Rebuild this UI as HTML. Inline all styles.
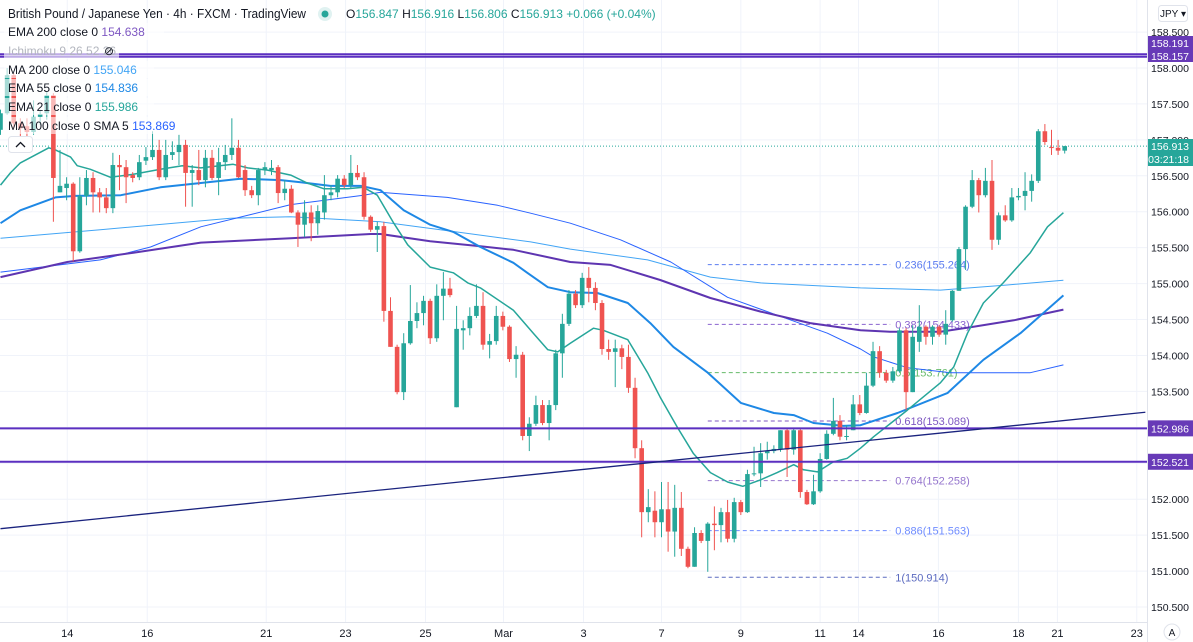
<!DOCTYPE html>
<html><head><meta charset="utf-8"><style>
html,body{margin:0;padding:0;background:#fff;}
svg{display:block;font-family:"Liberation Sans",sans-serif;}
</style></head><body>
<svg id="c" width="1193" height="642" viewBox="0 0 1193 642" xmlns="http://www.w3.org/2000/svg">
<g id="grid"></g>
<g id="plot" clip-path="url(#clipP)"></g>
<defs><clipPath id="clipP"><rect x="0" y="0" width="1147" height="622"/></clipPath></defs>
<g id="axis"></g>
<g id="legend"></g>
</svg>
<script>
const O=[157.14,157.37,157.90,157.23,157.19,157.11,157.32,157.37,157.62,156.27,156.33,156.39,155.45,156.22,156.47,156.27,156.20,156.05,156.65,156.62,156.51,156.48,156.71,156.76,156.86,156.48,156.79,156.83,156.93,156.54,156.58,156.44,156.75,156.47,156.69,156.79,156.89,156.58,156.30,156.23,156.58,156.58,156.62,156.26,156.32,155.99,155.82,155.99,155.84,155.99,156.23,156.27,156.46,156.37,156.54,156.48,155.93,155.75,155.80,154.62,154.12,153.49,154.17,154.48,154.59,154.76,154.24,154.83,154.93,153.28,154.35,154.38,154.55,154.69,154.15,154.20,154.55,154.40,153.95,154.01,152.88,153.05,153.31,153.06,153.31,154.03,154.44,154.86,154.70,155.08,154.94,154.73,154.09,154.05,154.10,153.98,153.55,152.71,151.82,151.84,151.68,151.86,151.55,151.88,151.31,151.06,151.53,151.42,151.66,151.64,151.82,151.45,151.96,151.82,152.35,152.36,152.64,152.67,152.70,152.96,152.69,152.96,152.10,151.93,152.11,152.56,152.91,153.09,152.87,152.96,153.32,153.20,153.58,154.06,153.76,153.65,153.78,154.35,153.49,154.19,154.40,154.26,154.40,154.29,154.49,154.90,155.48,156.07,156.44,156.23,156.43,155.61,155.95,155.88,156.20,156.22,156.29,156.43,157.12,156.90,156.89,156.85];
const H=[157.42,158.00,157.93,157.30,157.30,157.55,157.42,157.67,157.65,156.86,156.48,156.41,156.48,156.58,156.55,156.33,156.33,156.82,156.79,156.72,156.55,156.79,156.90,157.12,157.00,157.00,156.98,157.07,157.00,156.65,156.86,156.86,156.86,156.89,156.93,157.30,157.00,156.65,156.36,156.61,156.69,156.72,156.65,156.44,156.37,156.02,156.16,156.09,156.09,156.51,156.37,156.51,156.51,156.79,156.65,156.55,155.95,155.86,155.86,154.81,154.15,154.31,154.98,154.74,154.83,154.79,154.99,155.16,155.08,154.69,154.49,154.67,154.99,154.88,154.30,154.69,154.61,154.42,154.13,154.05,153.14,153.44,153.38,153.38,154.08,154.58,154.91,154.91,155.15,155.23,155.02,154.77,154.22,154.22,154.15,154.15,153.69,152.82,152.14,152.11,152.24,152.24,152.20,152.10,151.34,151.61,151.57,151.68,151.90,151.88,151.99,152.02,151.99,152.41,152.73,152.78,152.80,152.75,152.96,152.99,152.99,152.99,152.13,152.34,152.64,152.96,153.41,153.17,153.03,153.45,153.45,153.76,154.19,154.13,153.80,153.84,154.38,154.38,154.42,154.70,154.42,154.42,154.42,154.63,154.91,155.51,156.09,156.58,156.47,156.61,156.72,155.99,156.09,156.33,156.33,156.55,156.52,157.15,157.22,157.14,157.00,156.916];
const L=[157.07,157.35,157.16,157.00,157.00,157.07,157.21,157.28,155.86,156.27,156.16,155.31,155.43,156.09,155.99,155.99,155.98,155.98,156.30,156.12,156.41,156.44,156.65,156.72,156.44,156.44,156.72,156.65,156.07,156.07,156.37,156.34,156.44,156.23,156.58,156.72,156.47,156.22,156.19,156.09,156.51,156.51,156.12,156.16,155.98,155.51,155.65,155.59,155.68,155.89,156.16,156.20,156.33,156.33,156.44,155.89,155.72,155.44,154.47,154.12,153.46,153.38,154.15,154.38,154.42,154.16,154.19,154.49,154.81,153.28,154.08,154.28,154.52,154.08,153.96,154.15,154.35,153.91,153.69,152.82,152.67,153.02,153.03,152.82,153.24,153.69,154.41,154.66,154.66,154.74,154.63,154.01,153.94,153.56,153.81,153.48,152.57,151.47,151.68,151.47,151.47,151.27,151.20,151.21,151.04,151.06,151.39,150.99,151.29,151.40,151.40,151.40,151.78,151.81,152.32,152.17,152.55,152.64,152.66,152.31,152.62,152.02,151.92,151.92,152.09,152.55,152.89,152.82,152.82,152.96,153.17,153.19,153.56,153.69,153.62,153.62,153.76,153.24,153.49,154.05,154.15,154.15,154.26,154.15,154.47,154.90,155.19,156.05,155.99,156.20,155.47,155.54,155.86,155.86,156.16,156.02,156.14,156.40,156.93,156.79,156.79,156.81];
const C=[157.37,157.90,157.23,157.16,157.11,157.32,157.36,157.62,156.47,156.36,156.39,155.45,156.22,156.47,156.27,156.20,156.05,156.65,156.62,156.48,156.47,156.69,156.76,156.86,156.48,156.79,156.83,156.93,156.54,156.58,156.44,156.75,156.47,156.69,156.79,156.89,156.48,156.30,156.23,156.58,156.62,156.61,156.26,156.32,155.99,155.82,155.99,155.84,156.01,156.23,156.27,156.46,156.37,156.54,156.48,155.93,155.75,155.80,154.62,154.12,153.49,154.17,154.48,154.59,154.76,154.24,154.83,154.93,154.84,154.37,154.38,154.55,154.69,154.15,154.20,154.55,154.40,153.95,154.01,152.88,153.05,153.31,153.06,153.31,154.03,154.44,154.86,154.70,155.08,154.94,154.73,154.09,154.05,154.10,153.98,153.55,152.71,151.82,151.89,151.68,151.86,151.55,151.88,151.31,151.06,151.53,151.42,151.66,151.64,151.82,151.45,151.96,151.82,152.35,152.36,152.64,152.67,152.70,152.96,152.69,152.96,152.10,151.93,152.11,152.56,152.91,153.09,152.87,152.88,153.32,153.20,153.58,154.06,153.76,153.65,153.78,154.35,153.49,154.26,154.40,154.26,154.40,154.29,154.44,154.90,155.48,156.07,156.44,156.23,156.43,155.61,155.95,155.88,156.20,156.22,156.29,156.43,157.12,156.97,156.89,156.85,156.913];
const ema21I=[0,1.5,3,7.3,8.3,10.6,11.6,13.6,16.6,20,24.2,27.5,30.3,35.2,37.4,40.4,43.9,46.4,48.9,52.5,54.9,57,59.5,61.6,65,68.5,70.7,72.6,77.6,80.6,82.8,84.3,86.2,89.7,91.2,94.9,97.9,99.8,102.4,104.8,107.4,110,112.3,115,117.5,120,121.5,123.6,126,128.1,130.1,132.1,137.2,142.2,144.2,146.3,148.7,151.7,155.8,158.4,160.8];
const ema21V=[156.37,156.54,156.68,156.89,156.86,156.76,156.64,156.59,156.48,156.52,156.59,156.64,156.61,156.66,156.61,156.58,156.51,156.40,156.32,156.32,156.34,156.23,155.84,155.54,155.23,155.15,155.01,154.94,154.63,154.31,154.08,154.05,154.17,154.38,154.35,154.22,153.76,153.42,153.00,152.64,152.37,152.24,152.18,152.27,152.37,152.48,152.41,152.38,152.52,152.57,152.71,152.87,153.24,153.62,153.84,154.31,154.73,155.01,155.43,155.79,155.986];
const ema55I=[0,3,8.3,11.3,18.2,24.2,30.3,36.3,42.4,45.4,49.9,54.5,57.5,61,65,68.5,72.6,77.6,79.7,82.8,86.2,90.3,94.9,98.3,101.8,107,112,117,120,123,127.5,130.1,135.7,143.3,148.7,154.3,160.8];
const ema55V=[155.84,156.02,156.20,156.22,156.23,156.34,156.40,156.46,156.44,156.41,156.36,156.36,156.30,156.02,155.82,155.72,155.51,155.29,155.15,154.95,154.88,154.87,154.73,154.45,154.12,153.76,153.34,153.20,153.17,153.06,153.02,153.03,153.20,153.48,153.94,154.31,154.836];
const ma200I=[0,15.1,34.8,43.9,57.5,68.1,80.2,86.2,97.9,107.4,115,130.1,142.2,152.3,160.8];
const ma200V=[155.63,155.75,155.91,155.93,155.86,155.73,155.58,155.48,155.33,155.09,155.01,154.94,154.91,154.98,155.046];
const ma100I=[0,15.1,22.7,30.3,37.8,43.9,54.9,57.5,67.6,75.2,80.2,86.2,93.8,101.4,110,117.5,125.1,130.1,132.1,137.2,143.7,155.8,160.8];
const ma100V=[155.16,155.33,155.51,155.79,155.96,156.10,156.23,156.27,156.20,156.09,155.98,155.84,155.61,155.30,154.81,154.56,154.31,154.09,153.98,153.83,153.76,153.76,153.869];
const ema200I=[0,10.1,20.1,30.3,43.9,56,57.5,65,72.6,77.6,86.2,92.3,99.8,107.4,115,122.5,130.1,134.6,142.2,147.2,153.3,160.8];
const ema200V=[155.09,155.30,155.43,155.57,155.63,155.69,155.69,155.59,155.52,155.47,155.30,155.26,155.05,154.80,154.61,154.45,154.35,154.33,154.33,154.40,154.49,154.638];
const hLevels=[158.191,158.157,152.986,152.521];
const trendI=[0,173.2], trendV=[151.59,153.21];
const fibR=["0.236","0.382","0.5","0.618","0.764","0.886","1"];
const fibV=[155.264,154.433,153.761,153.089,152.258,151.563,150.914];
const fibCol=["#5b7cf0","#8a63cf","#66bb6a","#7e57c2","#9575cd","#6f8cff","#5c6bc0"];
const fibStart=107, fibEnd=134.6;
const priceTicks=[158.5,158,157.5,157,156.5,156,155.5,155,154.5,154,153.5,153,152.5,152,151.5,151,150.5];
const dateLabels=["14","16","21","23","25","Mar","3","7","9","11","14","16","18","21","23"];
const dateIdx=[10.1,22.2,40.2,52.2,64.3,76.1,88.2,100,112,124,129.8,141.9,154,159.9,171.9];

const NS="http://www.w3.org/2000/svg";
const X=i=>0.5+i*6.61;
const Y=p=>68+(158-p)*71.87;
function mk(t,a,parent){const e=document.createElementNS(NS,t);for(const k in a)e.setAttribute(k,a[k]);parent.appendChild(e);return e;}
const grid=document.getElementById('grid'),plot=document.getElementById('plot'),axis=document.getElementById('axis'),leg=document.getElementById('legend');

priceTicks.forEach(p=>{const l=mk('line',{x1:0,x2:1147,y1:Y(p),y2:Y(p),stroke:'#f0f3fa','stroke-width':1},grid);

});
dateIdx.forEach(i=>{const l=mk('line',{x1:X(i),x2:X(i),y1:0,y2:622,stroke:'#f0f3fa','stroke-width':1},grid);

});

fibV.forEach((v,k)=>{const l=mk('line',{x1:X(fibStart),x2:X(fibEnd),y1:Y(v),y2:Y(v),stroke:fibCol[k],'stroke-width':1,'stroke-dasharray':'4,3'},plot);


const t=mk('text',{x:X(fibEnd)+5,y:Y(v)+4,'font-size':11,fill:fibCol[k]},plot);t.textContent=fibR[k]+'('+v.toFixed(3)+')';

});

const cp=mk('line',{x1:0,x2:1147,y1:Y(C[C.length-1]),y2:Y(C[C.length-1]),stroke:'#26a69a','stroke-width':1,'stroke-dasharray':'1,2'},plot);



function line(I,V,col,w,name){const d=I.map((i,k)=>(k?'L':'M')+X(i).toFixed(1)+','+Y(V[k]).toFixed(1)).join('');
const p=mk('path',{d:d,fill:'none',stroke:col,'stroke-width':w,'stroke-linejoin':'round'},plot);

}
line(ma200I,ma200V,'#42a5f5',1,'ma200-line');
line(ma100I,ma100V,'#2962ff',1,'ma100-line');
line(ema200I,ema200V,'#5e35b1',2,'ema200-line');
line(ema55I,ema55V,'#1e88e5',2,'ema55-line');
line(ema21I,ema21V,'#26a69a',1.5,'ema21-line');

for(let i=0;i<O.length;i++){const up=C[i]>=O[i];const col=up?'#26a69a':'#ef5350';
const g=mk('g',{},plot);


mk('line',{x1:X(i),x2:X(i),y1:Y(H[i]),y2:Y(L[i]),stroke:col,'stroke-width':1},g);
const t=Y(Math.max(O[i],C[i])),b=Y(Math.min(O[i],C[i]));
mk('rect',{x:X(i)-2.3,y:t,width:4.6,height:Math.max(1,b-t),fill:col},g);}

hLevels.forEach(v=>{const l=mk('line',{x1:0,x2:1147,y1:Y(v),y2:Y(v),stroke:'#5b2fc0','stroke-width':2},plot);

});
const tl=mk('line',{x1:X(trendI[0]),y1:Y(trendV[0]),x2:X(trendI[1]),y2:Y(trendV[1]),stroke:'#1a237e','stroke-width':1.3},plot);



mk('line',{x1:1147.5,x2:1147.5,y1:0,y2:642,stroke:'#e0e3eb'},axis);
mk('line',{x1:0,x2:1147,y1:622.5,y2:622.5,stroke:'#e0e3eb'},axis);
priceTicks.forEach(p=>{const t=mk('text',{x:1189,y:Y(p)+4,'font-size':10.5,fill:'#131722','text-anchor':'end'},axis);t.textContent=p.toFixed(3);

});
dateLabels.forEach((s,k)=>{const t=mk('text',{x:X(dateIdx[k]),y:637,'font-size':11,fill:'#131722','text-anchor':'middle'},axis);t.textContent=s;

});
function tag(y,h,bg,name){const r=mk('rect',{x:1148,y:y,width:45,height:h,fill:bg},axis);

}
function tagText(s,y){const t=mk('text',{x:1189,y:y,'font-size':10.5,fill:'#fff','text-anchor':'end'},axis);t.textContent=s;}
tag(36,26,'#673ab7','level-price-tag');
tagText('158.191',47);tagText('158.157',60);
[152.986,152.521].forEach(v=>{const y=Y(v);tag(y-8,16,'#673ab7','level-price-tag');tagText(v.toFixed(3),y+4);});
tag(139,27,'#26a69a','current-price-tag');
tagText('156.913',150);tagText('03:21:18',163);
const jb=mk('rect',{x:1158.5,y:5.5,width:29,height:16,rx:3,fill:'#fff',stroke:'#e0e3eb'},axis);


let jt=mk('text',{x:1173,y:17,'font-size':10,fill:'#131722','text-anchor':'middle'},axis);jt.textContent='JPY ▾';
const ab=mk('circle',{cx:1172,cy:632,r:8,fill:'#fff',stroke:'#e0e3eb'},axis);


let at=mk('text',{x:1172,y:636,'font-size':10,fill:'#131722','text-anchor':'middle'},axis);at.textContent='A';

function lrow(y,w,parts,name){mk('rect',{x:4,y:y-9,width:w,height:17,fill:'#fff','fill-opacity':0.6},leg);
const t=mk('text',{x:8,y:y+4,'font-size':12,fill:'#131722'},leg);


parts.forEach(p=>{const s=mk('tspan',{fill:p[1]},t);s.textContent=p[0];});}
const tt=mk('text',{x:8,y:18,'font-size':12.5,fill:'#131722',textLength:298,lengthAdjust:'spacingAndGlyphs'},leg);tt.textContent='British Pound / Japanese Yen · 4h · FXCM · TradingView';


mk('circle',{cx:325,cy:14,r:7,fill:'#e0f2f1'},leg);mk('circle',{cx:325,cy:14,r:3.5,fill:'#26a69a'},leg);
const oh=mk('text',{x:346,y:18,'font-size':12,fill:'#26a69a'},leg);


[['O','#131722'],['156.847 ','#26a69a'],['H','#131722'],['156.916 ','#26a69a'],['L','#131722'],['156.806 ','#26a69a'],['C','#131722'],['156.913 +0.066 (+0.04%)','#26a69a']].forEach(p=>{const s=mk('tspan',{fill:p[1]},oh);s.textContent=p[0];});
lrow(32,160,[['EMA 200 close 0  ','#131722'],['154.638','#7e57c2']],'legend-ema200');
lrow(51,115,[['Ichimoku 9 26 52 26','#b2b5be']],'legend-ichimoku');
const eye=mk('text',{x:104,y:55,'font-size':12,fill:'#131722'},leg);eye.textContent='⊘';
lrow(70,150,[['MA 200 close 0  ','#131722'],['155.046','#42a5f5']],'legend-ma200');
lrow(88,150,[['EMA 55 close 0  ','#131722'],['154.836','#1e88e5']],'legend-ema55');
lrow(107,150,[['EMA 21 close 0  ','#131722'],['155.986','#26a69a']],'legend-ema21');
lrow(126,185,[['MA 100 close 0 SMA 5  ','#131722'],['153.869','#2962ff']],'legend-ma100');
const cb=mk('rect',{x:8.5,y:136.5,width:24,height:16,rx:3,fill:'#fff',stroke:'#e0e3eb'},leg);


mk('path',{d:'M16,147 L20.5,142.5 L25,147',fill:'none',stroke:'#131722','stroke-width':1.3},leg);
</script>
</body></html>
